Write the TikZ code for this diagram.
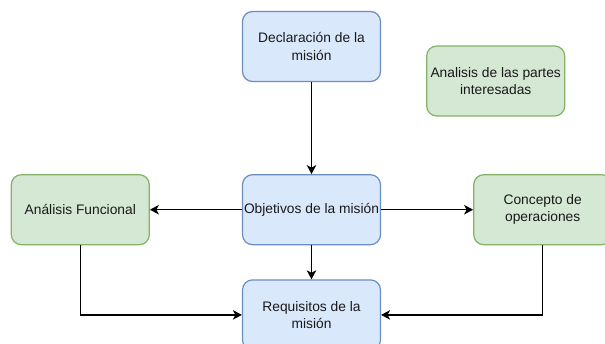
\documentclass[tikz,border=0pt]{standalone}
\usepackage{fontspec}
\setmainfont{Liberation Sans}
\usetikzlibrary{shapes,arrows.meta,positioning,calc}

\definecolor{blueFill}{HTML}{DAE8FC}
\definecolor{blueLine}{HTML}{6C8EBF}
\definecolor{greenFill}{HTML}{D5E8D4}
\definecolor{greenLine}{HTML}{82B366}

\begin{document}
\begin{tikzpicture}[x=1pt, y=-1pt, node distance=92pt]
\tikzstyle{block} = [rectangle, draw=blueLine, fill=blueFill, line width=1.2pt, align=center, rounded corners=10pt, minimum width=138pt, minimum height=70pt, inner sep=0.5pt, text=black!90, font=\fontsize{13.8}{17.3}\selectfont]
\tikzstyle{greenblock} = [block, draw=greenLine, fill=greenFill]
\tikzstyle{line} = [draw, -{Stealth[length=9pt, width=9.5pt, inset=2.5pt]}, line width=1.3pt]

\useasboundingbox (0,0) rectangle (605,343);

% Central column
\node [block] (declaracion) at (311.5,46.5) {Declaración de la\\misión};
\node [block, below=of declaracion] (objetivos) {Objetivos de la misión};
\node [block, below=34pt of objetivos] (requisitos) {Requisitos de la\\misión};

% Side blocks
\node [greenblock, left=of objetivos] (funcional) {Análisis Funcional};
\node [greenblock, right=of objetivos] (concepto) {Concepto de\\operaciones};
\node [greenblock, right=45pt of declaracion, yshift=-34.5pt] (partes) {Analisis de las partes\\interesadas};

% Connections
\draw [line] (declaracion.south) -- (objetivos.north);
\draw [line] (objetivos.west) -- (funcional.east);
\draw [line] (objetivos.east) -- (concepto.west);
\draw [line] (objetivos.south) -- (requisitos.north);
\draw [line] (funcional.south) |- (requisitos.west);
\draw [line] (concepto.south) |- (requisitos.east);

\end{tikzpicture}
\end{document}
